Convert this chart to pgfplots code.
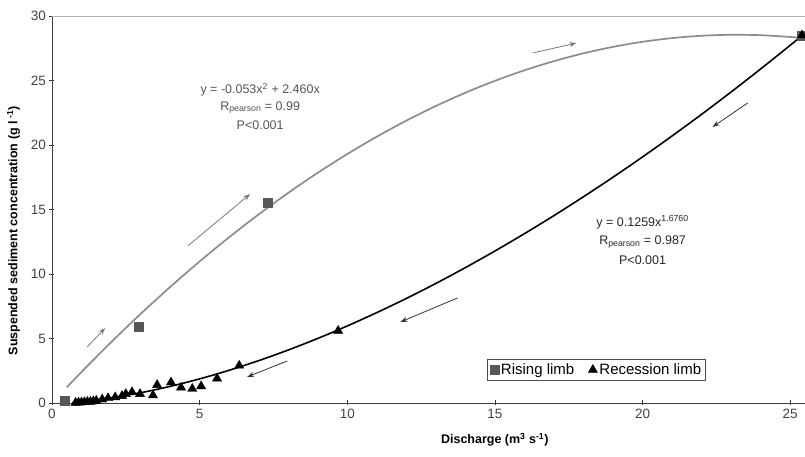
\documentclass[border=0pt]{standalone}
\usepackage{fontspec}
\setmainfont{Liberation Sans}
\usepackage{pgfplots}
\pgfplotsset{compat=1.18}
\usetikzlibrary{arrows.meta}
\definecolor{risecol}{HTML}{8C8C8C}
\definecolor{sqcol}{HTML}{575757}
\definecolor{txtgray}{HTML}{555555}
\definecolor{tickgray}{HTML}{444444}
\definecolor{arrgray}{HTML}{7A7A7A}
\begin{document}
\begin{tikzpicture}
\begin{axis}[
 scale only axis, width=753pt, height=387pt,
 xmin=0, xmax=25.5, ymin=0, ymax=30,
 axis x line*=bottom, axis y line*=left,
 axis line style={black!75, line width=0.8pt, -},
 xtick={0,5,...,25}, ytick={0,5,...,30},
 tick align=center, major tick length=5pt,
 tick style={black!80, line width=0.6pt},
 ticklabel style={font=\fontsize{13.5}{15}\selectfont, text=tickgray},
 /pgf/number format/assume math mode=true,
 xlabel={Discharge (m\textsuperscript{3} s\textsuperscript{-1})},
 ylabel={Suspended sediment concentration (g l\textsuperscript{ -1})},
 xlabel style={font=\bfseries\fontsize{12.5}{15}\selectfont, at={(axis description cs:0.588,-0.0956)}, anchor=center},
 ylabel style={font=\bfseries\fontsize{12.5}{15}\selectfont, at={(axis description cs:-0.051,0.445)}, anchor=center, rotate=0},
 legend style={at={(axis description cs:0.578,0.114)}, anchor=north west, draw=black!70, font=\fontsize{15}{18}\selectfont, inner sep=2.5pt, /tikz/every even column/.append style={column sep=12pt}},
 legend columns=2,
]
\coordinate (A) at (rel axis cs:0,0);
\coordinate (B) at (rel axis cs:1,1);
\draw[gray!60, line width=0.8pt] (rel axis cs:0,1) -- (rel axis cs:1,1);
% rising limb fit
\addplot[risecol, line width=1.7pt, smooth, forget plot] coordinates {
(0.5,1.217) (1,2.407) (2,4.708) (3,6.903) (4,8.992) (5,10.975) (6,12.852) (7,14.623) (8,16.288) (9,17.847) (10,19.3) (11,20.647) (12,21.888) (13,23.023) (14,24.052) (15,24.975) (16,25.792) (17,26.503) (18,27.108) (19,27.607) (20,28.0) (21,28.287) (22,28.468) (23,28.543) (24,28.512) (25,28.375) (25.5,28.27)};
% recession limb fit
\addplot[black, line width=1.6pt, smooth, forget plot] coordinates {
(0.7,0.069) (1,0.126) (1.5,0.248) (2,0.402) (3,0.794) (4,1.286) (5,1.869) (6,2.537) (7,3.284) (8,4.108) (9,5.005) (10,5.972) (11,7.008) (12,8.106) (13,9.269) (14,10.496) (15,11.783) (16,13.128) (17,14.529) (18,15.992) (19,17.506) (20,19.078) (21,20.704) (22,22.381) (23,24.115) (24,25.900) (25,27.733) (25.5,28.67)};
% data
\addplot[only marks, mark=square*, mark size=4.5pt, mark options={fill=sqcol, draw=sqcol}] coordinates {
(0.44,0.15) (2.95,5.9) (7.29,15.5) (25.4,28.5)};
\addlegendentry{Rising limb}
\addplot[only marks, mark=triangle*, mark size=5.3pt, mark options={fill=black, draw=black}] coordinates {
(0.8,0.02) (0.9,0.04) (1.0,0.05) (1.1,0.07) (1.2,0.09) (1.3,0.1) (1.4,0.14) (1.5,0.18) (1.7,0.28) (1.9,0.38) (2.14,0.45) (2.37,0.55) (2.5,0.7) (2.71,0.85) (2.98,0.7) (3.42,0.6) (3.56,1.4) (4.03,1.6) (4.37,1.2) (4.75,1.1) (5.05,1.3) (5.59,1.9) (6.34,2.9) (9.69,5.6) (25.4,28.5)};
\addlegendentry{Recession limb}
% arrows
\draw[arrgray, line width=0.8pt, -{Stealth[length=7pt,width=5pt]}] (axis cs:1.19,4.34) -- (axis cs:1.80,5.81);
\draw[arrgray, line width=0.8pt, -{Stealth[length=7pt,width=5pt]}] (axis cs:4.61,12.2) -- (axis cs:6.71,16.2);
\draw[arrgray, line width=0.8pt, -{Stealth[length=7pt,width=5pt]}] (axis cs:16.27,27.13) -- (axis cs:17.76,27.9);
\draw[black!80, line width=0.8pt, -{Stealth[length=7pt,width=5pt]}] (axis cs:23.56,23.26) -- (axis cs:22.37,21.4);
\draw[black!80, line width=0.8pt, -{Stealth[length=7pt,width=5pt]}] (axis cs:13.73,8.14) -- (axis cs:11.8,6.28);
\draw[black!80, line width=0.8pt, -{Stealth[length=7pt,width=5pt]}] (axis cs:7.97,3.26) -- (axis cs:6.61,2.02);
% annotations
\node[text=txtgray, font=\fontsize{12.5}{15}\selectfont] at (axis cs:7.05,24.3) {y = -0.053x\textsuperscript{2} + 2.460x};
\node[text=txtgray, font=\fontsize{12.5}{15}\selectfont] at (axis cs:7.05,22.9) {R\textsubscript{pearson} = 0.99};
\node[text=txtgray, font=\fontsize{12.5}{15}\selectfont] at (axis cs:7.05,21.5) {P<0.001};
\node[text=black!85, font=\fontsize{12.5}{15}\selectfont] at (axis cs:20.0,14.0) {y = 0.1259x\textsuperscript{1.6760}};
\node[text=black!85, font=\fontsize{12.5}{15}\selectfont] at (axis cs:20.0,12.5) {R\textsubscript{pearson} = 0.987};
\node[text=black!85, font=\fontsize{12.5}{15}\selectfont] at (axis cs:20.0,11.1) {P<0.001};
\end{axis}
\pgfresetboundingbox
\path[use as bounding box] ([shift={(-52pt,-54pt)}]A) rectangle ([shift={(0pt,16pt)}]B);
\end{tikzpicture}
\end{document}
